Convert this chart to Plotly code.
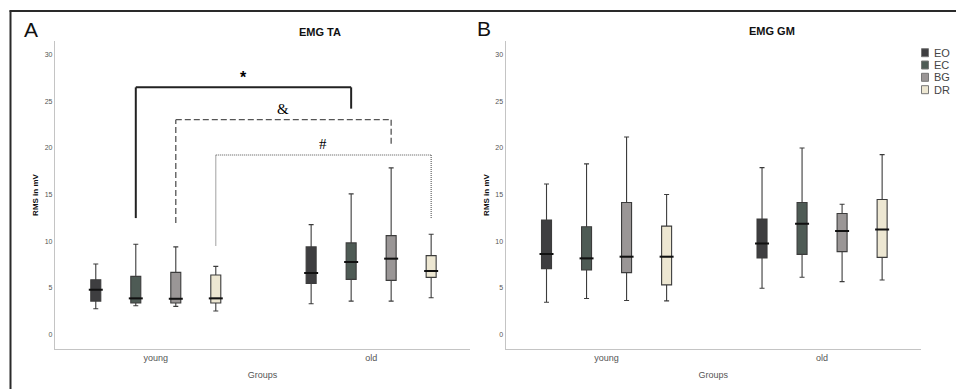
import plotly.graph_objects as go

# ---------------- data ----------------
groups = ["young", "old"]
conditions = ["EO", "EC", "BG", "DR"]
colors = ["#3e3e40", "#4e5b55", "#9a9696", "#ede7d2"]

# EMG TA  (rows = condition EO, EC, BG, DR ; columns = young, old)
ta_low = [[2.73, 3.27], [3.05, 3.55], [2.98, 3.55], [2.48, 3.91]]
ta_q1 = [[3.55, 5.45], [3.34, 5.88], [3.34, 5.78], [3.34, 6.10]]
ta_med = [[4.77, 6.57], [3.84, 7.75], [3.80, 8.11], [3.84, 6.78]]
ta_q3 = [[5.85, 9.37], [6.21, 9.80], [6.64, 10.58], [6.35, 8.43]]
ta_high = [[7.53, 11.77], [9.65, 15.07], [9.37, 17.87], [7.28, 10.73]]

# EMG GM
gm_low = [[3.43, 4.93], [3.82, 6.11], [3.61, 5.64], [3.57, 5.82]]
gm_q1 = [[7.04, 8.18], [6.89, 8.57], [6.61, 8.86], [5.29, 8.25]]
gm_med = [[8.61, 9.75], [8.14, 11.86], [8.32, 11.07], [8.32, 11.25]]
gm_q3 = [[12.25, 12.36], [11.54, 14.14], [14.14, 12.96], [11.61, 14.46]]
gm_high = [[16.14, 17.89], [18.29, 20.00], [21.18, 13.96], [15.00, 19.29]]

# significance brackets (EMG TA): condition index, left bottom, top, right bottom
sig_labels = ["*", "&", "#"]
sig_cond = [1, 2, 3]
sig_left_bottom = [12.47, 11.94, 9.53]
sig_top = [26.52, 23.05, 19.25]
sig_right_bottom = [24.23, 20.47, 12.44]
sig_dash = ["solid", "6px,3px", "1px,1px"]
sig_width = [2, 1.3, 1.1]

y_ticks = [0, 5, 10, 15, 20, 25, 30]

# ---------------- layout constants ----------------
W, H = 956, 389
BOXGAP = 0.257
BOXGROUPGAP = 0.75
XRANGE = [-0.468, 1.459]
YRANGE = [-1.6, 31.5]
dom_a = [55 / W, 470 / W]
dom_b = [505.7 / W, 921 / W]
dom_y = [1 - 349 / H, 1 - 41 / H]


def box_offset(k):
    # position of the k-th grouped box relative to its category centre
    return (-0.5 + (k + 0.5) / len(conditions)) * (1 - BOXGAP)


fig = go.Figure()


def add_panel(xa, ya, xa_lin, low, q1, med, q3, high):
    for k, cond in enumerate(conditions):
        fig.add_trace(go.Box(
            x=groups, lowerfence=low[k], q1=q1[k], median=med[k],
            q3=q3[k], upperfence=high[k], name=cond,
            fillcolor=colors[k], line=dict(color="#3c3c3c", width=1.1),
            whiskerwidth=0.5, boxpoints=False, showlegend=False,
            xaxis=xa, yaxis=ya, hoverinfo="skip", offsetgroup=cond,
        ))
    # emphasised median bars
    for k, cond in enumerate(conditions):
        fig.add_trace(go.Scatter(
            x=[g + box_offset(k) for g in range(len(groups))], y=med[k],
            mode="markers", xaxis=xa_lin, yaxis=ya, showlegend=False, hoverinfo="skip",
            marker=dict(symbol="line-ew", size=10, color="#111111",
                        line=dict(color="#111111", width=2)),
        ))


add_panel("x", "y", "x3", ta_low, ta_q1, ta_med, ta_q3, ta_high)
add_panel("x2", "y2", "x4", gm_low, gm_q1, gm_med, gm_q3, gm_high)

axis_common = dict(showgrid=False, zeroline=False, showline=True,
                   linecolor="#c4c4c4", linewidth=1.3, ticks="")
hidden = dict(showgrid=False, zeroline=False, showline=False, showticklabels=False,
              ticks="", range=XRANGE)
xfont = dict(family="Liberation Sans, Arial", size=9, color="#555555")
yfont = dict(family="Liberation Sans, Arial", size=7, color="#555555")
ytitle = dict(text="RMS in mV", standoff=4,
              font=dict(family="Liberation Sans, Arial", size=8, color="#111111", weight="bold"))
xtitle = dict(text="Groups", standoff=9,
              font=dict(family="Liberation Sans, Arial", size=9, color="#555555"))

fig.update_layout(
    width=W, height=H,
    margin=dict(l=0, r=0, t=0, b=0),
    paper_bgcolor="white", plot_bgcolor="white",
    boxmode="group", boxgap=BOXGAP, boxgroupgap=BOXGROUPGAP,
    showlegend=False,
    xaxis=dict(domain=dom_a, anchor="y", type="category", range=XRANGE,
               tickfont=xfont, title=xtitle, **axis_common),
    yaxis=dict(domain=dom_y, anchor="x", range=YRANGE, tickvals=y_ticks,
               tickfont=yfont, title=ytitle, **axis_common),
    xaxis2=dict(domain=dom_b, anchor="y2", type="category", range=XRANGE,
                tickfont=xfont, title=xtitle, **axis_common),
    yaxis2=dict(domain=dom_y, anchor="x2", range=YRANGE, tickvals=y_ticks,
                tickfont=yfont, title=ytitle, **axis_common),
    xaxis3=dict(domain=dom_a, anchor="y", overlaying="x", type="linear", **hidden),
    xaxis4=dict(domain=dom_b, anchor="y2", overlaying="x2", type="linear", **hidden),
)

shapes = []
annotations = []
for i, lab in enumerate(sig_labels):
    k = sig_cond[i]
    xl = 0 + box_offset(k)
    xr = 1 + box_offset(k)
    ln = dict(color="#222222" if i == 0 else "#555555", width=sig_width[i], dash=sig_dash[i])
    shapes.append(dict(type="line", xref="x", yref="y", x0=xl, x1=xl,
                       y0=sig_left_bottom[i], y1=sig_top[i], line=ln))
    shapes.append(dict(type="line", xref="x", yref="y", x0=xl, x1=xr,
                       y0=sig_top[i], y1=sig_top[i], line=ln))
    shapes.append(dict(type="line", xref="x", yref="y", x0=xr, x1=xr,
                       y0=sig_top[i], y1=sig_right_bottom[i], line=ln))
    fam = "Liberation Sans, Arial" if lab == "*" else "Liberation Serif, Times New Roman"
    annotations.append(dict(x=(xl + xr) / 2, y=sig_top[i], xref="x", yref="y",
                            text=lab, showarrow=False, yanchor="middle",
                            yshift=10 if lab == "*" else 11,
                            font=dict(family=fam, size=16 if lab == "*" else 15,
                                      color="#000000", weight="bold" if lab == "*" else "normal")))

# outer frame (left and top)
shapes.append(dict(type="line", xref="paper", yref="paper", x0=10.5 / W, x1=10.5 / W,
                   y0=0, y1=1 - 10.5 / H, line=dict(color="#2a2a2a", width=2)))
shapes.append(dict(type="line", xref="paper", yref="paper", x0=9.5 / W, x1=1,
                   y0=1 - 11 / H, y1=1 - 11 / H, line=dict(color="#2a2a2a", width=2)))

# panel letters and titles
for txt, xp, yp, size, bold in [("A", 31, 30, 21, False), ("B", 483.5, 29, 21, False),
                                ("EMG TA", 320, 32, 11, True), ("EMG GM", 772, 31, 11, True)]:
    annotations.append(dict(x=xp / W, y=1 - yp / H, xref="paper", yref="paper",
                            text=txt, showarrow=False, xanchor="center", yanchor="middle",
                            font=dict(family="Liberation Sans, Arial", size=size, color="#111111",
                                      weight="bold" if bold else "normal")))

# legend (drawn manually)
leg_y = [52.7, 65.0, 77.3, 89.7]
for k, cond in enumerate(conditions):
    yc = leg_y[k]
    shapes.append(dict(type="rect", xref="paper", yref="paper",
                       x0=921.5 / W, x1=928.5 / W, y0=1 - (yc + 4) / H, y1=1 - (yc - 4) / H,
                       fillcolor=colors[k], line=dict(color="#777777", width=1)))
    annotations.append(dict(x=932 / W, y=1 - yc / H, xref="paper", yref="paper",
                            text=cond, showarrow=False, xanchor="left", yanchor="middle",
                            font=dict(family="Liberation Sans, Arial", size=11, color="#444444")))

fig.update_layout(shapes=shapes, annotations=annotations)
fig.write_html(
    "out.html",
    config={"displayModeBar": False},
    post_script="document.body.style.margin='0';document.body.style.overflow='hidden';",
)
